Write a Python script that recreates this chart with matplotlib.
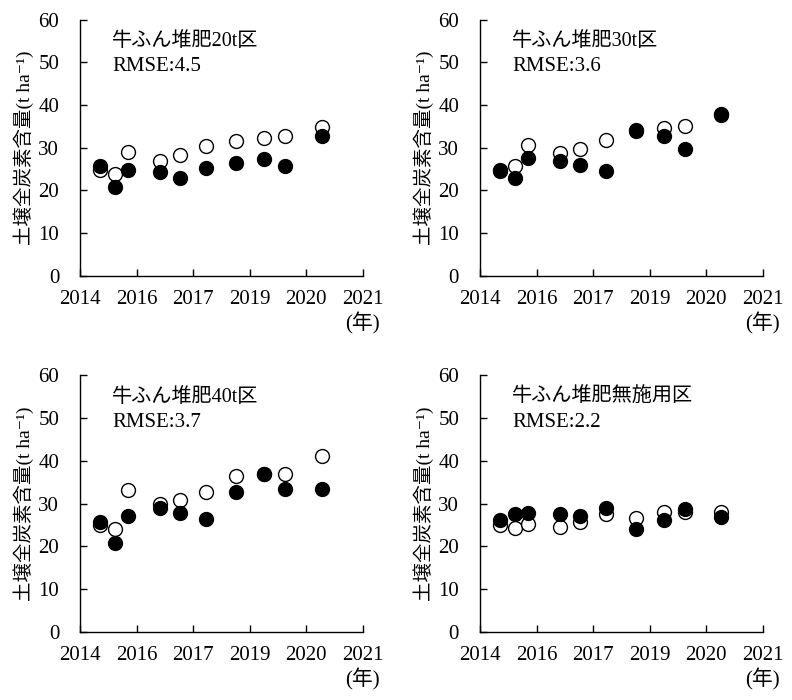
import numpy as np
import matplotlib
matplotlib.use('Agg')
import matplotlib.pyplot as plt

plt.rcParams['font.family'] = ['Liberation Serif', 'Noto Sans CJK JP', 'DejaVu Serif']

# sampling dates (decimal years)
dates = [2014.90, 2015.27, 2015.60, 2016.38, 2016.87, 2017.53, 2018.26, 2018.96, 2019.47, 2020.38]

titles = ['牛ふん堆肥20t区', '牛ふん堆肥30t区', '牛ふん堆肥40t区', '牛ふん堆肥無施用区']
rmse = ['4.5', '3.6', '3.7', '2.2']

# open circles (simulated), filled circles (measured)
sim_20t = [24.8, 23.9, 29.1, 27.0, 28.2, 30.3, 31.5, 32.3, 32.8, 34.8]
obs_20t = [25.8, 20.9, 24.7, 24.3, 23.0, 25.2, 26.4, 27.4, 25.6, 32.8]
sim_30t = [24.6, 25.8, 30.6, 28.8, 29.7, 31.7, 34.0, 34.6, 35.0, 37.6]
obs_30t = [24.8, 23.0, 27.6, 26.9, 26.0, 24.6, 34.2, 32.7, 29.8, 37.9]
sim_40t = [25.0, 24.1, 33.2, 29.9, 30.9, 32.7, 36.4, 37.0, 36.9, 41.2]
obs_40t = [25.6, 20.9, 27.0, 29.1, 27.7, 26.3, 32.7, 36.9, 33.4, 33.4]
sim_0t = [24.9, 24.2, 25.3, 24.5, 25.6, 27.6, 26.6, 28.0, 28.1, 28.1]
obs_0t = [26.2, 27.6, 27.9, 27.6, 27.2, 28.9, 24.0, 26.2, 28.8, 26.8]

sims = [sim_20t, sim_30t, sim_40t, sim_0t]
obss = [obs_20t, obs_30t, obs_40t, obs_0t]

xmin, xmax = 2014.4, 2021.4
xticks = np.linspace(xmin, xmax, 6)

fig = plt.figure(figsize=(7.92, 7.0), dpi=100)
boxes = [[0.101, 0.606, 0.357, 0.366], [0.606, 0.606, 0.357, 0.366],
         [0.101, 0.097, 0.357, 0.367], [0.606, 0.097, 0.357, 0.367]]

for i in range(4):
    ax = fig.add_axes(boxes[i])
    ax.plot(dates, sims[i], 'o', ms=10, mfc='white', mec='black', mew=1.0, zorder=2)
    ax.plot(dates, obss[i], 'o', ms=10, mfc='black', mec='black', mew=1.0, zorder=3)
    ax.set_xlim(xmin, xmax)
    ax.set_ylim(0, 60)
    ax.set_yticks(range(0, 61, 10))
    ax.set_xticks(xticks)
    ax.set_xticklabels([str(int(round(t))) for t in xticks])
    for s in ['top', 'right']:
        ax.spines[s].set_visible(False)
    for s in ['left', 'bottom']:
        ax.spines[s].set_linewidth(1.0)
    ax.tick_params(axis='both', direction='in', length=5, width=1.0, labelsize=15)
    ax.tick_params(axis='y', pad=15)
    ax.tick_params(axis='x', pad=10)
    ax.set_ylabel('土壌全炭素含量(t ha⁻¹)', fontsize=14, labelpad=3)
    ax.text(0.113, 0.914, titles[i], transform=ax.transAxes, fontsize=14.5, va='center', ha='left')
    ax.text(0.113, 0.816, 'RMSE:' + rmse[i], transform=ax.transAxes, fontsize=15, va='center', ha='left')
    ax.text(1.0, -0.185, '(年)', transform=ax.transAxes, fontsize=15, va='center', ha='center')

fig.savefig('out.png', dpi=100)
